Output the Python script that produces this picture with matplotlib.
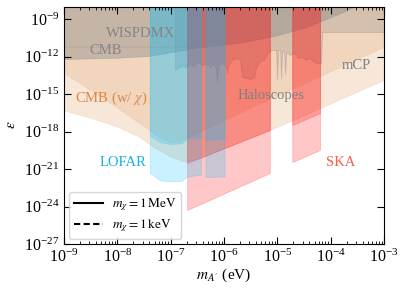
import numpy as np
import matplotlib.pyplot as plt

plt.rcParams['font.family'] = 'serif'
plt.rcParams['font.serif'] = ['Liberation Serif', 'DejaVu Serif']
plt.rcParams['mathtext.fontset'] = 'stix'

# all values are log10
# CMB (w/ chi) bounds, m_chi = 1 MeV and 1 keV
cmbx_mev_logm = [-9.0, -8.5, -8.0, -7.39, -7.2, -7.0, -6.85, -6.6, -6.0, -5.0, -4.0, -3.0]
cmbx_mev_loge = [-13.3, -14.7, -16.1, -17.9, -18.5, -18.85, -18.8, -18.3, -17.07, -15.12, -13.17, -11.22]
cmbx_kev_logm = [-9.0, -8.5, -8.0, -7.6, -7.3, -7.0, -6.75, -6.5, -6.0, -5.5, -5.14, -4.5, -4.0, -3.5, -3.0]
cmbx_kev_loge = [-16.3, -16.9, -17.6, -18.4, -19.3, -20.0, -20.4, -20.2, -19.35, -18.5, -17.88, -16.7, -15.75, -14.8, -13.88]

# existing limits (grey)
cmb_logm = [-9.0, -8.0, -7.4, -6.45, -5.7, -5.0, -4.5, -4.14, -3.8, -3.55]
cmb_loge = [-12.2, -12.1, -11.95, -11.25, -10.9, -10.3, -9.7, -9.1, -8.5, -8.0]
wisp_logm = [-9.0, -7.4, -6.45]
wisp_loge = [-11.25, -11.25, -11.22]

halo_logm = [-6.917, -6.861, -6.786, -6.711, -6.636, -6.561, -6.486, -6.411, -6.336, -6.261,
             -6.186, -6.148, -6.130, -6.111, -6.036, -5.961, -5.942, -5.923, -5.848, -5.773,
             -5.698, -5.660, -5.510, -5.435, -5.398, -5.323, -5.248, -5.173, -5.098, -5.023,
             -5.004, -4.985, -4.948, -4.929, -4.910, -4.872, -4.854, -4.835, -4.760, -4.685,
             -4.610, -4.535, -4.460, -4.385, -4.310, -4.235, -4.178, -4.160, -3.0]
halo_loge = [-13.08, -12.92, -12.76, -12.84, -12.60, -12.76, -12.44, -12.68, -12.52, -12.84,
             -12.52, -13.08, -14.04, -12.76, -12.52, -12.76, -13.32, -12.68, -12.28, -12.12,
             -12.28, -13.64, -13.80, -13.64, -12.84, -12.36, -12.28, -11.64, -11.48, -11.48,
             -13.88, -11.48, -11.48, -13.72, -11.48, -11.64, -13.40, -11.64, -11.88, -11.72,
             -12.12, -12.04, -12.28, -12.12, -12.44, -12.52, -12.52, -10.04, -10.04]

# radio telescope bands: (logm range, bottom for 1 MeV, bottom for 1 keV)
lofar_bands = [
    ([-7.39, -7.2, -7.0, -6.8, -6.69, -6.43],
     [-18.3, -18.85, -19.0, -18.95, -18.6, -18.45],
     [-21.3, -21.9, -22.0, -21.95, -21.6, -21.45]),
    ([-6.35, -5.99], [-18.65, -18.6], [-21.65, -21.6]),
]
ska_bands = [
    ([-6.69, -5.14], [-20.52, -17.88], [-24.28, -21.32]),
    ([-4.72, -4.2], [-17.48, -16.52], [-20.44, -19.48]),
]

TOP = 1e-8
tan = '#E3A36B'
grey = '#858585'

fig = plt.figure(figsize=(4.07, 2.89), dpi=100)
ax = fig.add_axes([0.1572, 0.1557, 0.7862, 0.8218])

p = lambda v: 10 ** np.array(v)

for lm, le in [(cmbx_mev_logm, cmbx_mev_loge), (cmbx_kev_logm, cmbx_kev_loge)]:
    ax.fill_between(p(lm), p(le), TOP, color=tan, alpha=0.25, lw=0.5)

ax.fill_between(p(cmb_logm), p(cmb_loge), TOP, color=grey, alpha=0.4, lw=0.5)
ax.plot(p(wisp_logm), p(wisp_loge), color=grey, alpha=0.3, lw=0.6)
ax.fill_between(p(halo_logm), p(halo_loge), TOP, facecolor=grey, alpha=0.25,
                edgecolor='#707070', lw=0.6)

for lm, b1, b2 in ska_bands:
    for b in (b1, b2):
        ax.fill_between(p(lm), p(b), TOP, color='red', alpha=0.22, lw=0.6)
for lm, b1, b2 in lofar_bands:
    for b in (b1, b2):
        ax.fill_between(p(lm), p(b), TOP, color='#00BFFF', alpha=0.21, lw=0.6)

ax.plot([], [], 'k-', lw=1.5, label=r'$m_\chi = 1\,\mathrm{MeV}$')
ax.plot([], [], 'k', ls=(0, (3, 1.6)), lw=1.5, label=r'$m_\chi = 1\,\mathrm{keV}$')
ax.legend(loc='lower left', fontsize=9.5, handlelength=2.2, borderaxespad=0.4,
          labelspacing=0.3, borderpad=0.35, handletextpad=0.7)

fs = 10.5
ax.text(10**-7.57, 10**-10.12, 'WISPDMX', color='#858585', fontsize=fs, ha='center', va='center')
ax.text(10**-8.21, 10**-11.48, 'CMB', color='#858585', fontsize=fs, ha='center', va='center')
ax.text(10**-8.12, 10**-15.32, r'CMB (w/ $\chi$)', color='#DA8745', fontsize=fs, ha='center', va='center')
ax.text(10**-5.12, 10**-15.08, 'Haloscopes', color='#7F7F7F', fontsize=fs, ha='center', va='center')
ax.text(10**-3.52, 10**-12.68, 'mCP', color='#7F7F7F', fontsize=fs, ha='center', va='center')
ax.text(10**-7.9, 10**-20.44, 'LOFAR', color='#1AAFE6', fontsize=fs, ha='center', va='center')
ax.text(10**-3.82, 10**-20.44, 'SKA', color='#F5604A', fontsize=fs, ha='center', va='center')

ax.set_xscale('log')
ax.set_yscale('log')
ax.set_xlim(1e-9, 1e-3)
ax.set_ylim(1e-27, TOP)
ax.set_yticks([10.0 ** k for k in range(-27, -8, 3)])
ax.yaxis.set_minor_locator(plt.NullLocator())
ax.tick_params(which='both', direction='in', top=True, right=True, labelsize=11.5)
ax.tick_params(which='major', length=5)
ax.tick_params(which='minor', length=2.5)
ax.set_xlabel(r"$m_{A'}$ (eV)", fontsize=11, labelpad=0)
ax.set_ylabel(r'$\epsilon$', fontsize=11)

fig.savefig('out.png', dpi=100)
